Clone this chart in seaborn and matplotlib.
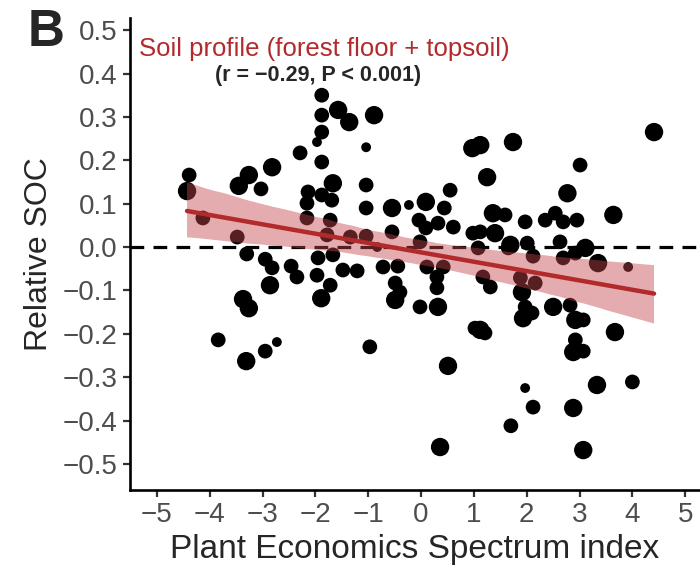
import numpy as np
import pandas as pd
import matplotlib
matplotlib.use("Agg")
import matplotlib.pyplot as plt
import seaborn as sns

# Plant Economics Spectrum index (x)
pes_index = [
    -4.39, -4.43, -4.13, -3.45, -3.26, -3.03, -2.82, -2.29, -3.48, -3.30,
    -2.95, -2.82, -2.86, -2.46, -2.35, -3.37, -3.26, -3.84, -3.31, -2.95,
    -2.73, -1.95, -1.97, -1.89, -1.72, -1.88, -1.88, -1.88, -1.97, -1.88,
    -2.14, -2.16, -2.16, -1.88, -1.57, -1.36, -0.89, -1.04, -1.67, -1.69,
    -1.04, -1.04, -0.55, -0.23, 0.09, 0.55, 0.44, -1.72, -1.78, -1.67,
    -1.48, -1.34, -1.04, -0.55, -0.83, -0.04, 0.09, 0.32, 0.61, 0.98,
    0.97, 1.12, 1.74, 1.25, 3.01, 2.77, 1.36, 1.59, 1.97, 2.35,
    2.54, 2.69, 2.95, 3.64, 1.12, 1.40, 1.69, 2.01, 2.12, 2.63,
    2.69, 2.92, 3.11, 3.35, 3.92, -0.02, 4.41, -1.21, -0.72, -0.44,
    0.11, 0.42, -0.49, -0.40, -0.49, 0.30, 0.30, -0.02, 0.32, -0.97,
    0.51, 0.36, 1.02, 1.08, 1.65, 1.17, 1.31, 1.88, 2.16, 1.91,
    1.97, 1.93, 2.10, 2.50, 2.82, 2.92, 3.07, 2.92, 2.88, 3.07,
    3.67, 1.12, 1.21, 1.97, 2.12, 1.70, 2.88, 3.33, 4.00, 3.07,
]

# Relative SOC (y)
relative_soc = [
    0.166, 0.129, 0.067, 0.141, 0.166, 0.134, 0.184, 0.217, 0.023, -0.016,
    -0.028, -0.048, -0.088, -0.044, -0.069, -0.120, -0.141, -0.214, -0.263, -0.240,
    -0.219, -0.025, -0.065, -0.118, -0.088, 0.350, 0.304, 0.265, 0.242, 0.196,
    0.127, 0.101, 0.067, 0.120, 0.316, 0.288, 0.304, 0.230, 0.147, 0.108,
    0.143, 0.090, 0.090, 0.097, 0.104, 0.131, 0.090, 0.062, 0.028, -0.018,
    -0.053, 0.023, 0.025, 0.035, 0.000, 0.062, 0.044, 0.055, 0.046, 0.032,
    0.228, 0.235, 0.242, 0.161, 0.189, 0.124, 0.078, 0.074, 0.058, 0.062,
    0.078, 0.058, 0.062, 0.074, 0.035, 0.032, 0.005, 0.009, -0.021, 0.012,
    -0.025, -0.014, -0.002, -0.037, -0.046, 0.012, 0.265, -0.055, -0.046, -0.044,
    -0.046, -0.046, -0.083, -0.104, -0.122, -0.069, -0.094, -0.138, -0.138, -0.230,
    -0.274, -0.461, -0.187, -0.002, -0.002, -0.069, -0.092, -0.071, -0.083, -0.104,
    -0.138, -0.164, -0.152, -0.138, -0.134, -0.168, -0.168, -0.214, -0.242, -0.240,
    -0.196, -0.191, -0.198, -0.325, -0.369, -0.412, -0.371, -0.318, -0.311, -0.468,
]

# point weight class (1 = small, 2 = medium, 3 = large)
weight = [
    2, 3, 2, 3, 3, 2, 3, 2, 2, 2,
    2, 2, 3, 2, 2, 3, 3, 2, 3, 2,
    1, 2, 2, 3, 2, 2, 2, 2, 1, 2,
    2, 2, 2, 2, 3, 3, 3, 1, 3, 2,
    2, 2, 3, 1, 3, 2, 2, 2, 2, 2,
    2, 2, 2, 2, 1, 2, 2, 2, 2, 2,
    3, 3, 3, 3, 2, 3, 3, 2, 2, 2,
    2, 2, 2, 3, 2, 3, 3, 2, 2, 2,
    2, 2, 3, 3, 1, 2, 3, 2, 2, 2,
    2, 2, 2, 2, 3, 2, 2, 2, 3, 2,
    3, 3, 2, 2, 2, 2, 2, 2, 2, 3,
    2, 3, 2, 3, 2, 3, 2, 2, 3, 2,
    3, 3, 2, 1, 2, 2, 3, 3, 2, 3,
]

X_TICKS = list(range(-5, 6))
Y_TICKS = [round(v / 10, 1) for v in range(-5, 6)]

RED = "#B22A2C"
BAND = "#C4474C"


def main():
    df = pd.DataFrame({"pes": pes_index, "soc": relative_soc, "w": weight})

    sns.set_style("ticks")
    plt.rcParams["font.family"] = ["Liberation Sans", "DejaVu Sans"]

    fig = plt.figure(figsize=(7, 5.71), dpi=100)
    ax = fig.add_axes([0.1857, 0.1419, 0.8143, 0.8266])

    # zero reference line
    ax.axhline(0, color="black", lw=2.3, ls=(0, (4.3, 2.9)), zorder=1)

    sns.scatterplot(
        data=df, x="pes", y="soc", size="w",
        sizes=(50, 175), size_norm=(1, 3),
        color="black", linewidth=0, legend=False, ax=ax, zorder=2,
    )
    n_before = len(ax.collections)
    sns.regplot(
        data=df, x="pes", y="soc", scatter=False, ax=ax,
        color=RED, seed=3, line_kws={"lw": 3.2, "zorder": 4},
    )
    for coll in ax.collections[n_before:]:
        coll.set_facecolor(BAND)
        coll.set_edgecolor("none")
        coll.set_alpha(0.45)
        coll.set_zorder(3)

    ax.text(-1.84, 0.456, "Soil profile (forest floor + topsoil)",
            color=RED, fontsize=18.5, ha="center", va="center")
    ax.text(-1.95, 0.396, "(r = \u22120.29, P < 0.001)",
            fontsize=15.5, fontweight="bold", ha="center", va="center")
    fig.text(28 / 700, 1 - 33 / 571, "B", fontsize=37, fontweight="bold",
             ha="left", va="center")

    ax.set_xlim(-5.51, 5.28)
    ax.set_ylim(-0.56, 0.528)
    ax.set_xticks(X_TICKS)
    ax.set_yticks(Y_TICKS)
    ax.set_xlabel("Plant Economics Spectrum index", fontsize=24, labelpad=4)
    ax.set_ylabel("Relative SOC", fontsize=23, labelpad=6)
    ax.tick_params(labelsize=20, labelcolor="#4D4D4D", color="#333333",
                   width=1.6, length=5, pad=4)
    for side in ["top", "right"]:
        ax.spines[side].set_visible(False)
    for side in ["left", "bottom"]:
        ax.spines[side].set_linewidth(1.9)
        ax.spines[side].set_color("black")

    fig.savefig("out.png", dpi=100)


if __name__ == "__main__":
    main()
